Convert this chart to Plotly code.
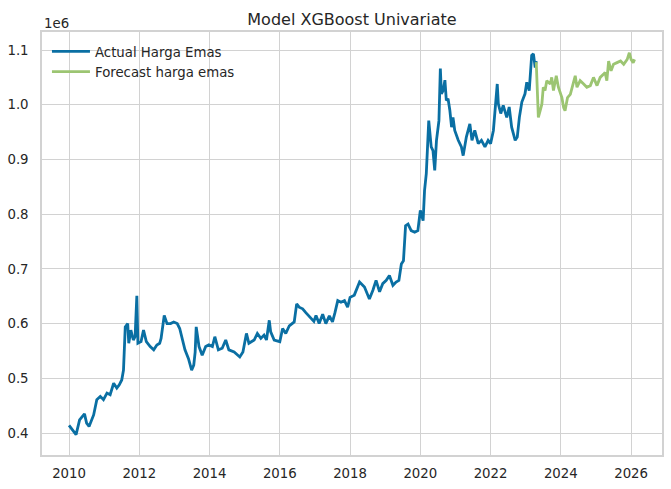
import plotly.graph_objects as go

# ---- data (decimal year, price in IDR) ----
actual_year = [
    2010.00, 2010.08, 2010.20, 2010.30, 2010.44, 2010.50, 2010.57, 2010.70, 2010.79, 2010.89,
    2010.98, 2011.08, 2011.17, 2011.27, 2011.36, 2011.43, 2011.50, 2011.55, 2011.60, 2011.67,
    2011.70, 2011.76, 2011.83, 2011.88, 2011.93, 2011.96, 2012.05, 2012.12, 2012.20, 2012.31,
    2012.41, 2012.50, 2012.58, 2012.62, 2012.71, 2012.79, 2012.89, 2012.98, 2013.08, 2013.15,
    2013.22, 2013.30, 2013.40, 2013.49, 2013.55, 2013.59, 2013.62, 2013.70, 2013.79, 2013.89,
    2013.98, 2014.08, 2014.15, 2014.25, 2014.36, 2014.46, 2014.55, 2014.70, 2014.86, 2014.95,
    2015.05, 2015.12, 2015.27, 2015.36, 2015.46, 2015.55, 2015.62, 2015.70, 2015.74, 2015.84,
    2016.00, 2016.08, 2016.17, 2016.27, 2016.41, 2016.48, 2016.55, 2016.65, 2016.74, 2016.89,
    2016.97, 2017.03, 2017.12, 2017.22, 2017.31, 2017.41, 2017.50, 2017.57, 2017.65, 2017.74,
    2017.84, 2017.93, 2018.00, 2018.12, 2018.27, 2018.41, 2018.55, 2018.65, 2018.74, 2018.84,
    2018.93, 2019.03, 2019.12, 2019.22, 2019.31, 2019.39, 2019.46, 2019.52, 2019.58, 2019.65,
    2019.74, 2019.84, 2019.93, 2020.00, 2020.08, 2020.12, 2020.17, 2020.24, 2020.31, 2020.36,
    2020.41, 2020.46, 2020.53, 2020.57, 2020.60, 2020.65, 2020.70, 2020.74, 2020.79, 2020.84,
    2020.89, 2020.93, 2020.98, 2021.08, 2021.17, 2021.22, 2021.31, 2021.41, 2021.47, 2021.55,
    2021.65, 2021.74, 2021.84, 2021.93, 2022.00, 2022.08, 2022.15, 2022.19, 2022.22, 2022.29,
    2022.36, 2022.46, 2022.53, 2022.60, 2022.70, 2022.76, 2022.82, 2022.89, 2022.98, 2023.03,
    2023.10, 2023.17, 2023.22, 2023.27, 2023.30,
]
actual_price = [
    414000, 407000, 397000, 424000, 435000, 418000, 412000, 433000, 461000, 467000,
    461000, 473000, 470000, 491000, 482000, 488000, 497000, 515000, 594000, 600000,
    564000, 588000, 570000, 576000, 651000, 564000, 567000, 588000, 567000, 558000,
    552000, 561000, 564000, 573000, 615000, 600000, 600000, 603000, 600000, 591000,
    570000, 552000, 536000, 515000, 524000, 548000, 594000, 558000, 542000, 558000,
    561000, 558000, 576000, 552000, 555000, 570000, 552000, 548000, 539000, 548000,
    582000, 564000, 570000, 582000, 573000, 579000, 570000, 606000, 585000, 570000,
    567000, 591000, 582000, 596000, 603000, 636000, 630000, 627000, 620000, 610000,
    604000, 615000, 600000, 617000, 600000, 614000, 603000, 620000, 642000, 639000,
    642000, 630000, 648000, 652000, 676000, 667000, 645000, 661000, 679000, 658000,
    673000, 679000, 688000, 670000, 676000, 679000, 709000, 715000, 779000, 782000,
    770000, 767000, 770000, 807000, 788000, 843000, 874000, 971000, 923000, 916000,
    880000, 935000, 971000, 1066000, 1020000, 1026000, 1045000, 1008000, 1011000, 990000,
    959000, 977000, 953000, 935000, 923000, 907000, 941000, 965000, 935000, 953000,
    929000, 935000, 923000, 935000, 929000, 953000, 1008000, 1038000, 1002000, 984000,
    999000, 977000, 996000, 959000, 935000, 941000, 977000, 1005000, 1020000, 1041000,
    1026000, 1090000, 1093000, 1068000, 1080000,
]

forecast_year = [
    2023.30, 2023.33, 2023.36, 2023.41, 2023.46, 2023.50, 2023.55, 2023.60, 2023.70, 2023.74,
    2023.79, 2023.87, 2023.93, 2024.03, 2024.08, 2024.12, 2024.19, 2024.27, 2024.31, 2024.41,
    2024.46, 2024.55, 2024.65, 2024.74, 2024.84, 2024.93, 2025.03, 2025.12, 2025.22, 2025.26,
    2025.31, 2025.36, 2025.43, 2025.50, 2025.60, 2025.70, 2025.79, 2025.89, 2025.95, 2026.00,
    2026.06, 2026.10,
]
forecast_price = [
    1078000, 1026000, 977000, 989000, 1001000, 1032000, 1026000, 1044000, 1038000, 1050000,
    1026000, 1053000, 1032000, 1013000, 995000, 989000, 1013000, 1019000, 1029000, 1053000,
    1032000, 1044000, 1038000, 1032000, 1035000, 1050000, 1035000, 1050000, 1056000, 1059000,
    1044000, 1080000, 1062000, 1074000, 1077000, 1080000, 1074000, 1083000, 1095000, 1083000,
    1077000, 1083000,
]

x_ticks = [2010, 2012, 2014, 2016, 2018, 2020, 2022, 2024, 2026]
x_tick_labels = ["2010", "2012", "2014", "2016", "2018", "2020", "2022", "2024", "2026"]
y_ticks = [400000, 500000, 600000, 700000, 800000, 900000, 1000000, 1100000]
y_tick_labels = ["0.4", "0.5", "0.6", "0.7", "0.8", "0.9", "1.0", "1.1"]

BLUE = "#0a6fa3"
GREEN = "#9cc572"
GRID = "#d2d2d2"
TEXT = "#262626"
FONT = "DejaVu Sans"

fig = go.Figure()
fig.add_trace(go.Scatter(x=actual_year, y=actual_price, mode="lines",
                         name="Actual Harga Emas",
                         line=dict(color=BLUE, width=2.8)))
fig.add_trace(go.Scatter(x=forecast_year, y=forecast_price, mode="lines",
                         name="Forecast harga emas",
                         line=dict(color=GREEN, width=2.8)))

fig.update_layout(
    width=671, height=489,
    margin=dict(l=42, r=9, t=32, b=34),
    paper_bgcolor="white", plot_bgcolor="white",
    font=dict(family=FONT, size=13.3, color=TEXT),
    title=dict(text="Model XGBoost Univariate", x=0.5245, xanchor="center",
               y=1 - 19 / 489, yanchor="middle",
               font=dict(family=FONT, size=16, color=TEXT)),
    showlegend=True,
    legend=dict(x=0.008, y=0.99, xanchor="left", yanchor="top",
                bgcolor="rgba(255,255,255,0)", borderwidth=0,
                font=dict(family=FONT, size=13.3, color=TEXT),
                itemwidth=38, tracegroupgap=0),
)
fig.update_xaxes(
    range=[2009.23, 2026.88], tickvals=x_ticks, ticktext=x_tick_labels,
    showgrid=True, gridcolor=GRID, gridwidth=1,
    showline=True, linecolor=GRID, linewidth=1.5, mirror=True,
    ticks="", ticklabelstandoff=5, zeroline=False, automargin=False,
)
fig.update_yaxes(
    range=[359800, 1133000], tickvals=y_ticks, ticktext=y_tick_labels,
    showgrid=True, gridcolor=GRID, gridwidth=1,
    showline=True, linecolor=GRID, linewidth=1.5, mirror=True,
    ticks="", ticklabelstandoff=9, zeroline=False, automargin=False,
)
fig.add_annotation(text="1e6", xref="paper", yref="paper", x=0, y=1,
                   xanchor="left", yanchor="bottom", yshift=-1, showarrow=False,
                   font=dict(family=FONT, size=13.3, color=TEXT))

fig.write_html("out.html", config={"displayModeBar": False},
               post_script="document.body.style.margin='0px';document.body.style.padding='0px';")
